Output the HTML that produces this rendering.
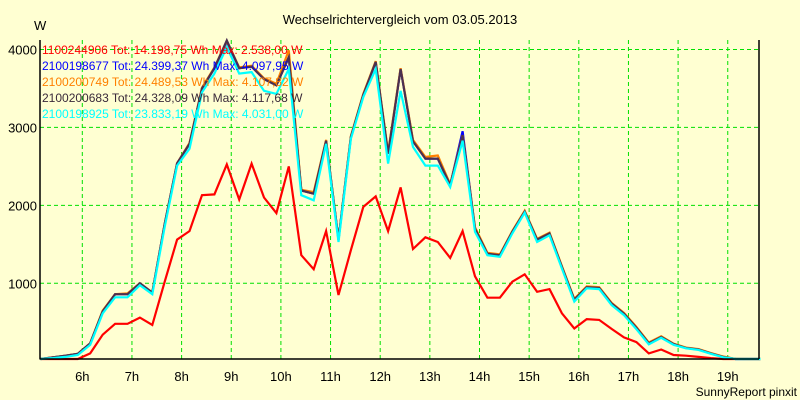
<!DOCTYPE html>
<html><head><meta charset="utf-8"><style>
html,body{margin:0;padding:0;background:#ffffd2;}
svg{display:block;font-family:"Liberation Sans",Arial,sans-serif;}
</style></head><body>
<svg id="chart" width="800" height="400" viewBox="0 0 800 400">
<rect x="0" y="0" width="800" height="400" fill="#ffffd2"/>
<text x="400" y="24" font-size="13" text-anchor="middle" fill="#000">Wechselrichtervergleich vom 03.05.2013</text>
<text x="34" y="30" font-size="13" fill="#000">W</text>
<text x="797" y="396" font-size="12" text-anchor="end" fill="#000">SunnyReport pinxit</text>
<g id="grid"></g>
<g id="series"></g>
<g id="axes"></g>
<g id="legend"></g>
</svg>
<script>
const yTicks=[1000,2000,3000,4000];
const hourTicks=[6,7,8,9,10,11,12,13,14,15,16,17,18,19];
const startHour=5.16;
const stepHours=0.25;
const seriesNames=["1100244906","2100198677","2100200749","2100200683","2100198925"];
const seriesTotals=["Tot: 14.198,75 Wh Max: 2.538,00 W","Tot: 24.399,37 Wh Max: 4.097,95 W","Tot: 24.489,53 Wh Max: 4.107,82 W","Tot: 24.328,09 Wh Max: 4.117,68 W","Tot: 23.833,19 Wh Max: 4.031,00 W"];
const red=[0,0,0,0,100,340,480,480,560,465,1020,1560,1670,2130,2140,2525,2075,2535,2100,1900,2500,1360,1180,1670,850,1425,1980,2115,1670,2230,1440,1590,1530,1325,1670,1090,815,815,1020,1115,890,925,615,420,540,530,415,305,245,100,150,80,70,55,40,20,5];
const blue=[25,50,70,95,230,640,860,860,1000,880,1760,2540,2790,3500,3760,4098,3760,3780,3620,3540,3900,2190,2150,2830,1560,2880,3420,3840,2660,3750,2830,2600,2600,2260,2950,1700,1380,1360,1660,1920,1560,1640,1210,790,950,940,740,610,430,230,310,220,170,150,100,55,28,12,6];
const orange=[25,50,70,95,230,650,860,870,1000,880,1760,2540,2800,3510,3770,4108,3770,3790,3630,3560,3990,2200,2170,2840,1560,2890,3430,3850,2680,3760,2840,2620,2640,2270,2900,1720,1390,1370,1670,1930,1570,1650,1220,800,960,950,750,620,440,240,320,225,175,155,105,60,30,12,6];
const dark=[25,50,70,95,230,640,860,860,1000,880,1760,2540,2790,3500,3760,4117,3760,3780,3620,3540,3900,2190,2150,2830,1560,2880,3420,3840,2660,3750,2820,2600,2600,2260,2900,1700,1380,1360,1660,1920,1560,1640,1210,790,950,940,740,610,430,230,310,220,170,150,100,55,28,12,6];
const cyan=[20,40,55,80,210,615,820,820,975,860,1725,2510,2725,3450,3690,4031,3690,3710,3470,3430,3750,2130,2065,2790,1530,2855,3390,3750,2535,3470,2750,2510,2510,2235,2830,1660,1360,1340,1640,1905,1530,1615,1190,765,935,925,720,590,410,217,300,210,165,145,95,50,25,10,5];

const NS="http://www.w3.org/2000/svg";
const L=40,R=759,T=40,B=359;
function xH(h){return 82.3+(h-6)*49.65;}
function xI(i){return xH(startHour+i*stepHours);}
function yV(v){return Math.min(B,361.2-v*0.07793);}
function mk(tag,attrs,parent){const e=document.createElementNS(NS,tag);for(const k in attrs)e.setAttribute(k,attrs[k]);parent.appendChild(e);return e;}

const grid=document.getElementById('grid');
yTicks.forEach(v=>{
  const l=mk('line',{x1:L,x2:R,y1:yV(v),y2:yV(v),stroke:'#00e000','stroke-width':1,'stroke-dasharray':'4,3'},grid);
  
  
  const t=mk('text',{x:37,y:yV(v)+5,'font-size':13,'text-anchor':'end',fill:'#000'},grid);
  t.textContent=v;
  
  
});
hourTicks.forEach(h=>{
  const l=mk('line',{x1:xH(h),x2:xH(h),y1:T,y2:B,stroke:'#00e000','stroke-width':1,'stroke-dasharray':'4,3'},grid);
  
  
  const t=mk('text',{x:xH(h),y:381,'font-size':13,'text-anchor':'middle',fill:'#000'},grid);
  t.textContent=h+'h';
  
  
});

const ser=document.getElementById('series');
const list=[[red,'#ff0000','series-1100244906'],[blue,'#0000ff','series-2100198677'],[orange,'#ff8000','series-2100200749'],[dark,'#4a3050','series-2100200683'],[cyan,'#00ffff','series-2100198925']];
list.forEach(s=>{
  const pts=s[0].map((v,i)=>xI(i).toFixed(1)+','+yV(v).toFixed(1)).join(' ');
  const p=mk('polyline',{points:pts,fill:'none',stroke:s[1],'stroke-width':2.2,'stroke-linejoin':'miter'},ser);
  
  
});

const ax=document.getElementById('axes');
const a1=mk('line',{x1:L,x2:L,y1:T,y2:B+0.5,stroke:'#000','stroke-width':1.5},ax);


const a2=mk('line',{x1:L,x2:R,y1:B,y2:B,stroke:'#000','stroke-width':1.5},ax);


const a3=mk('line',{x1:R,x2:R,y1:T,y2:B,stroke:'#000','stroke-width':1.5},ax);



const lg=document.getElementById('legend');
const lcol=['#ff0000','#0000ff','#ff8000','#3a2a3a','#00ffff'];
seriesNames.forEach((n,i)=>{
  const t=mk('text',{x:42,y:54+i*16,'font-size':12,fill:lcol[i]},lg);
  t.textContent=n+' '+seriesTotals[i];
  
  
});
</script>
</body></html>
